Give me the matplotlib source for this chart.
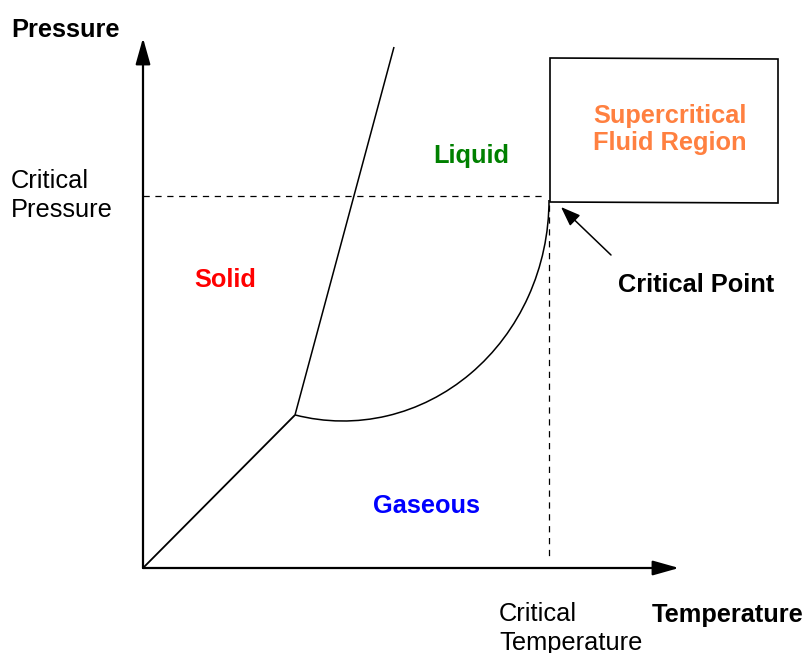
import matplotlib
matplotlib.use('Agg')
import matplotlib.pyplot as plt
from matplotlib.patches import Arc, Polygon

plt.rcParams['font.family'] = ['Liberation Sans', 'DejaVu Sans']

# diagram drawn in pixel space of the 811x653 picture (y grows downwards)
W, H = 811, 653

origin = (143, 568)
p_axis_tip = (143, 38)
t_axis_tip = (679, 568)

triple_point = (295, 415)
critical_point = (549, 200)

# solid/gas line and solid/liquid line
sublimation_x = [143, 295]
sublimation_y = [568, 415]
melting_x = [295, 394]
melting_y = [415, 47]

# liquid/gas boundary (elliptic arc from triple point to critical point)
vapor_center = (343, 200)
vapor_width = 412
vapor_height = 442
vapor_theta = (0, 102.6)

# dashed guides
crit_p_x = [143, 546]
crit_p_y = [196, 196]
crit_t_x = [549, 549]
crit_t_y = [205, 556]

# supercritical box corners
box_x = [550, 778, 778, 550]
box_y = [58, 59, 203, 202]

# arrow to critical point
cp_arrow_from = (611, 255)
cp_arrow_to = (561, 207)

fig = plt.figure(figsize=(W / 100, H / 100), dpi=100)
ax = fig.add_axes([0, 0, 1, 1])
ax.set_xlim(0, W)
ax.set_ylim(H, 0)
ax.axis('off')

# axes with arrows
axis_style = dict(arrowstyle='-|>,head_length=1.6,head_width=0.45', mutation_scale=10,
                  lw=1.6, color='black', shrinkA=0, shrinkB=0)
ax.annotate('', xy=p_axis_tip, xytext=origin, arrowprops=axis_style)
ax.annotate('', xy=t_axis_tip, xytext=origin, arrowprops=axis_style)

ax.plot(sublimation_x, sublimation_y, color='black', lw=1.3, solid_capstyle='butt')
ax.plot(melting_x, melting_y, color='black', lw=1.1, solid_capstyle='butt')
ax.add_patch(Arc(vapor_center, vapor_width, vapor_height,
                 theta1=vapor_theta[0], theta2=vapor_theta[1], color='black', lw=1.1))

ax.plot(crit_p_x, crit_p_y, color='black', lw=0.9, linestyle=(0, (5, 4.5)))
ax.plot(crit_t_x, crit_t_y, color='black', lw=0.9, linestyle=(0, (5, 4.5)))

ax.add_patch(Polygon(list(zip(box_x, box_y)), closed=True, fill=False,
                     edgecolor='black', lw=1.2))

ax.annotate('', xy=cp_arrow_to, xytext=cp_arrow_from,
            arrowprops=dict(arrowstyle='-|>,head_length=1.2,head_width=0.45', mutation_scale=10,
                            lw=1.1, color='black', shrinkA=0, shrinkB=0))

fs = 18.3
# multi-line texts: y is the baseline of the last line
ax.text(11, 37, 'Pressure', fontsize=fs, fontweight='bold', va='baseline', ha='left')
ax.text(11, 217, 'Critical\nPressure', fontsize=fs, va='baseline', ha='left', linespacing=1.25)
ax.text(652, 622, 'Temperature', fontsize=fs, fontweight='bold', va='baseline', ha='left')
ax.text(499, 650, 'Critical\nTemperature', fontsize=fs, va='baseline', ha='left', linespacing=1.25)

ax.text(471, 163, 'Liquid', fontsize=fs, fontweight='bold', color='#008000', va='baseline', ha='center')
ax.text(225, 287, 'Solid', fontsize=fs, fontweight='bold', color='#ff0000', va='baseline', ha='center')
ax.text(426, 513, 'Gaseous', fontsize=fs, fontweight='bold', color='#0000ff', va='baseline', ha='center')
ax.text(670, 150, 'Supercritical\nFluid Region', fontsize=fs, fontweight='bold', color='#ff8040',
        va='baseline', ha='center', multialignment='center', linespacing=1.15)
ax.text(696, 292, 'Critical Point', fontsize=fs, fontweight='bold', va='baseline', ha='center')

plt.savefig('out.png', dpi=100)
